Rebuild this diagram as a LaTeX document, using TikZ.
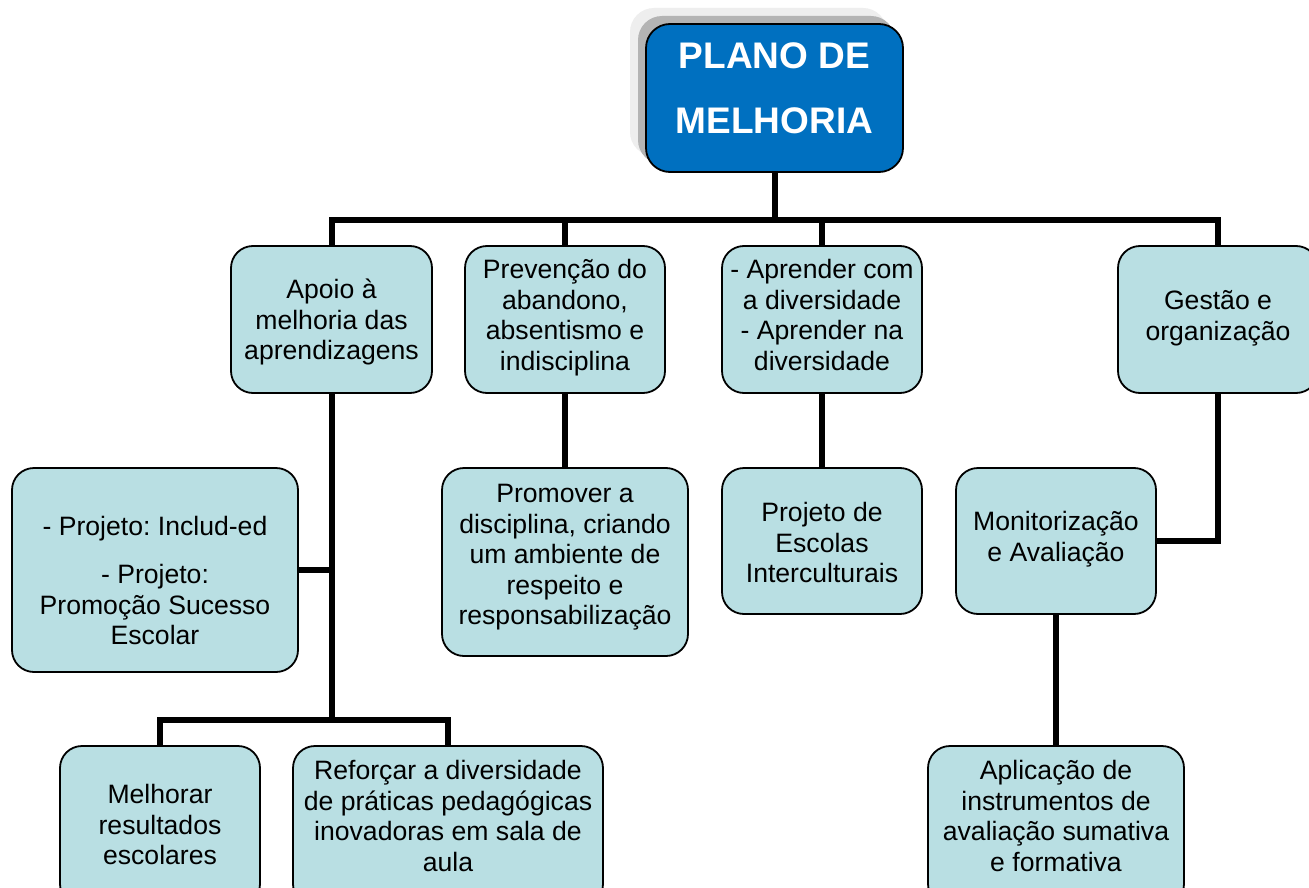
\documentclass[tikz,border=0pt]{standalone}
\usepackage{fontspec}
\setmainfont{Liberation Sans}
\frenchspacing
\definecolor{boxfill}{RGB}{185,223,227}
\definecolor{titleblue}{RGB}{0,112,192}
\definecolor{shadowA}{RGB}{180,180,180}
\definecolor{shadowB}{RGB}{238,238,238}
\tikzset{
  box/.style={draw=black, line width=1.8pt, fill=boxfill, rounded corners=22pt, minimum width=#1, inner sep=0pt},
  titlebox/.style={draw=black, line width=1.8pt, fill=titleblue, rounded corners=24pt, minimum width=257pt, minimum height=148pt, inner sep=0pt},
  shadowbox/.style={fill=#1, rounded corners=24pt, minimum width=257pt, minimum height=148pt, inner sep=0pt},
  txt/.style={anchor=base, align=center, inner sep=0pt, font=\fontsize{26.6}{30.5}\selectfont},
  ttl/.style={anchor=base, align=center, inner sep=0pt, text=white, font=\fontsize{37}{65}\selectfont\bfseries},
  conn/.style={draw=black, line width=6pt}
}
\begin{document}
\begin{tikzpicture}[x=1pt,y=-1pt]
\clip (0,0) rectangle (1309,888);
\fill[white] (0,0) rectangle (1309,888);
% title with shadow
\node[shadowbox=shadowB] (sh2) at (758.5,82) {};
\node[shadowbox=shadowA] (sh1) at (766.5,90) {};
\node[titlebox] (top) at (774.5,98) {};
\node[ttl] (ttop) at (774.5,134) {PLANO DE\\MELHORIA};
% boxes
\node[box=201pt, minimum height=147pt] (n1) at (331.5,319.5) {};
\node[box=200pt, minimum height=147pt] (n2) at (565,319.5) {};
\node[box=200pt, minimum height=147pt] (n3) at (822,319.5) {};
\node[box=200pt, minimum height=147pt] (n4) at (1218,319.5) {};
\node[box=286pt, minimum height=204pt] (n5) at (155,570) {};
\node[box=246pt, minimum height=188pt] (n6) at (565,562) {};
\node[box=200pt, minimum height=146pt] (n7) at (822,541) {};
\node[box=200pt, minimum height=146pt] (n8) at (1056,541) {};
\node[box=200pt, minimum height=160pt] (n9) at (160,826) {};
\node[box=310pt, minimum height=160pt] (n10) at (448,826) {};
\node[box=256pt, minimum height=160pt] (n11) at (1056,826) {};
% texts (anchor = baseline of last line)
\node[txt] (t1) at (331.5,359.5) {Apoio à\\melhoria das\\aprendizagens};
\node[txt] (t2) at (565,370) {Prevenção do\\abandono,\\absentismo e\\indisciplina};
\node[txt] (t3) at (822,370) {- Aprender com\\a diversidade\\- Aprender na\\diversidade};
\node[txt] (t4) at (1218,340) {Gestão e\\organização};
\node[txt] (t5) at (155,644.5) {- Projeto: Includ-ed\\[17.5pt]- Projeto:\\Promoção Sucesso\\Escolar};
\node[txt] (t6) at (565,624.5) {Promover a\\disciplina, criando\\um ambiente de\\respeito e\\responsabilização};
\node[txt] (t7) at (822,582.5) {Projeto de\\Escolas\\Interculturais};
\node[txt] (t8) at (1056,561) {Monitorização\\e Avaliação};
\node[txt] (t9) at (160,864.5) {Melhorar\\resultados\\escolares};
\node[txt] (t10) at (448,871) {Reforçar a diversidade\\de práticas pedagógicas\\inovadoras em sala de\\aula};
\node[txt] (t11) at (1056,871) {Aplicação de\\instrumentos de\\avaliação sumativa\\e formativa};
% connectors
\coordinate (j0) at (774.5,221);
\coordinate (j1) at (331.5,720);
\draw[conn] (top.south) -- (j0);
\draw[conn] (n1.north) -- ++(0,-25) -| (n4.north);
\draw[conn] (n2.north) -- (n2.north |- j0);
\draw[conn] (n3.north) -- (n3.north |- j0);
\draw[conn] (n1.south) -- (j1);
\draw[conn] (n5.east) -- (n5.east -| n1.south);
\draw[conn] (n9.north) |- (j1) -| (n10.north);
\draw[conn] (n2.south) -- (n6.north);
\draw[conn] (n3.south) -- (n7.north);
\draw[conn] (n4.south) |- (n8.east);
\draw[conn] (n8.south) -- (n11.north);
\end{tikzpicture}
\end{document}
